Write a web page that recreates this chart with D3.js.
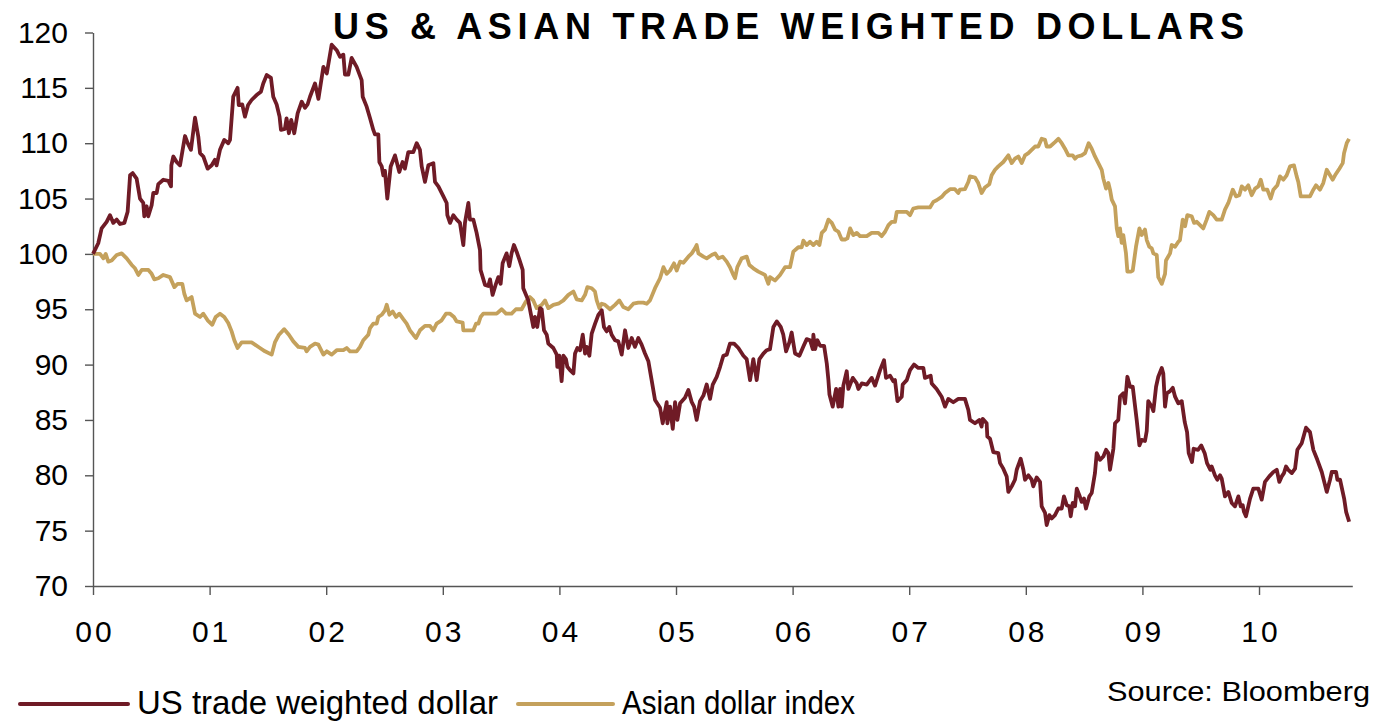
<html>
<head>
<style>
  body { margin: 0; background: #fff; }
  svg { display: block; }
  text { font-family: "Liberation Sans", Arial, sans-serif; fill: #000; }
</style>
</head>
<body>
<script src="https://d3js.org/d3.v7.min.js"></script>
<script>
// years since 2000 (fractional) and index levels
let usYears = [0,0.045,0.074,0.117,0.146,0.174,0.203,0.232,0.269,0.297,0.318,0.34,0.374,0.403,0.431,0.44,0.46,0.474,0.503,0.517,0.546,0.56,0.603,0.646,0.669,0.672,0.689,0.717,0.746,0.789,0.812,0.84,0.875,0.903,0.918,0.946,0.983,1.018,1.046,1.06,1.089,1.126,1.16,1.175,1.203,1.24,1.25,1.28,1.303,1.33,1.36,1.403,1.44,1.46,1.49,1.526,1.546,1.575,1.6,1.612,1.646,1.66,1.68,1.7,1.726,1.755,1.79,1.818,1.84,1.861,1.904,1.933,1.976,2.005,2.047,2.09,2.119,2.147,2.161,2.19,2.218,2.261,2.304,2.313,2.347,2.376,2.404,2.418,2.447,2.456,2.476,2.49,2.504,2.524,2.553,2.59,2.627,2.655,2.675,2.704,2.747,2.776,2.804,2.819,2.847,2.876,2.919,2.933,2.962,3.005,3.033,3.039,3.062,3.09,3.119,3.147,3.176,3.19,3.219,3.233,3.262,3.29,3.319,3.324,3.362,3.39,3.405,3.427,3.456,3.476,3.496,3.513,3.547,3.57,3.59,3.61,3.633,3.656,3.685,3.69,3.733,3.776,3.79,3.81,3.834,3.848,3.868,3.891,3.905,3.948,3.977,3.982,3.999,4.019,4.034,4.056,4.068,4.091,4.12,4.134,4.154,4.177,4.2,4.22,4.234,4.257,4.277,4.306,4.334,4.363,4.382,4.405,4.428,4.448,4.477,4.505,4.534,4.563,4.591,4.62,4.648,4.677,4.705,4.734,4.763,4.791,4.82,4.863,4.886,4.92,4.926,4.949,4.972,4.992,5.012,5.035,5.077,5.106,5.135,5.155,5.177,5.206,5.235,5.263,5.292,5.315,5.349,5.378,5.406,5.435,5.463,5.498,5.535,5.578,5.606,5.635,5.663,5.692,5.715,5.749,5.778,5.806,5.835,5.864,5.898,5.92,5.944,5.972,5.992,6.021,6.058,6.095,6.121,6.15,6.173,6.178,6.193,6.213,6.236,6.27,6.293,6.307,6.316,6.344,6.373,6.393,6.407,6.421,6.435,6.464,6.478,6.516,6.55,6.564,6.593,6.636,6.678,6.707,6.75,6.784,6.801,6.836,6.864,6.878,6.899,6.936,6.944,6.979,7.007,7.041,7.078,7.121,7.135,7.184,7.193,7.235,7.278,7.307,7.335,7.378,7.421,7.478,7.507,7.521,7.564,7.601,7.621,7.63,7.664,7.67,7.693,7.721,7.764,7.779,7.807,7.836,7.85,7.879,7.907,7.922,7.956,7.979,7.993,8.022,8.05,8.064,8.093,8.122,8.136,8.165,8.179,8.202,8.222,8.25,8.279,8.308,8.327,8.351,8.373,8.385,8.402,8.422,8.437,8.459,8.479,8.499,8.516,8.545,8.565,8.593,8.608,8.636,8.665,8.688,8.708,8.722,8.751,8.765,8.793,8.808,8.836,8.851,8.871,8.894,8.917,8.951,8.974,8.994,9.022,9.037,9.05,9.08,9.094,9.117,9.136,9.166,9.179,9.194,9.209,9.237,9.26,9.28,9.308,9.337,9.363,9.383,9.397,9.425,9.439,9.477,9.505,9.534,9.554,9.583,9.594,9.622,9.642,9.666,9.68,9.708,9.737,9.766,9.794,9.823,9.843,9.86,9.871,9.888,9.908,9.923,9.951,9.994,10.023,10.051,10.088,10.123,10.152,10.174,10.195,10.214,10.232,10.251,10.281,10.309,10.329,10.366,10.403,10.437,10.466,10.5,10.538,10.581,10.609,10.624,10.661,10.672,10.695,10.73,10.747,10.773]
let usValues = [100,100.96,102.3,102.9,103.5,102.8,103.1,102.7,102.8,103.8,107.1,107.3,106.8,105,104.6,103.4,104.3,103.4,104.4,105.5,105.5,106.3,106.7,106.6,106.1,108,108.8,108.3,108,110.65,110,109.4,112.3,110.6,109.1,108.8,107.7,108,108.5,108,109.4,110.3,110,110.3,114.2,115,113.45,113.5,112.4,113.45,113.9,114.35,114.65,115.4,116.16,115.9,114.2,113.5,112.4,111.2,111.3,112.25,110.9,112.1,110.9,112.7,113.75,113.2,113.5,114.2,115.4,114,116.9,116.3,118.9,118.4,117.8,118,116.2,116.2,117.7,116.9,115.7,114.2,113.3,112.25,111.2,110.8,110.8,108.3,107.9,107.1,107.5,105,107.9,108.9,107.4,108.3,107.7,109.2,109.2,110,109.4,107.9,106.5,108,108.2,106.5,106.1,105.2,104.6,103.5,102.8,103.5,103.1,102.8,100.8,102.8,104.6,103.1,103.1,101.9,100.35,98.55,97.2,97.1,97.7,96.3,97.3,97.9,97.3,99.15,100.05,98.9,100.05,100.8,100.2,99.5,98.55,96.9,95.8,93.4,94.3,93.4,95.1,95,93.1,92.7,91.9,91.5,90.9,89.8,90.8,88.5,90.8,90.5,89.8,89.5,89.2,91,91.5,91.3,92.7,91,91.6,90.8,92.8,93.7,94.5,94.9,93.4,93,93.4,92.7,92.2,92.1,90.9,93.1,91.5,92.4,91.6,92.4,91.8,91,90.3,88.6,86.8,86.1,84.7,86.6,84.7,86.2,84.2,86.6,85,86.5,87,87.7,86.6,86.2,85,86.7,87.2,88.2,86.9,88.2,88.9,89.8,90.8,90.9,91.9,91.9,91.5,90.8,90.5,88.6,90.5,88.6,90.5,91,91.3,91.4,93.4,93.9,93.4,92.7,91.2,92,92.9,91,90.8,91.7,92.3,92.2,91.4,92.7,91.4,92.2,91.7,91.7,90.1,88.6,87.3,86.2,87.8,86.2,87.8,86.2,88.1,89.4,87.8,88.8,88.3,87.8,88.3,88.2,88.8,88.1,89.5,90.4,88.8,89,88.5,88.6,86.7,87.1,88.2,88.6,89.5,90,89.7,89.7,88.8,89,88.3,87.8,87.1,86.2,86.9,86.6,86.9,86.9,85.9,85,84.7,85,84.4,85.1,84.7,83.5,83.3,82.1,82,81.1,80.6,79.9,78.5,79,79.6,80.5,81.5,80.5,79.6,80,79.6,79,79.8,79.4,77.2,76.6,75.5,76.4,76.1,76.4,77,77,78.1,77.3,77.2,76.3,77.5,77.2,78.8,78.2,77.6,77.9,77,78.1,78.4,80.2,82,81.4,81.7,82.3,82,80.5,82.4,84.7,85,87.1,87.4,86.5,88.9,88,88,85,82.7,83.2,83.1,84,86.7,86.2,85.8,88,88.9,89.7,89.2,86.2,87.4,87.6,87.9,87.1,86.5,86.7,84.8,83.9,82,81.2,82.4,82.3,82.7,82,81.1,80.5,80.8,80,79.6,80,79.7,78.1,78.5,77.5,77.2,78.1,77.2,77.3,76.7,76.3,77.2,77.9,78.8,78.8,77.8,79.4,79.9,80.3,80.5,79.4,79.9,80.2,80.8,80.5,80.2,80.6,82.3,82.9,84.3,83.9,82.3,81.4,80.3,78.5,79.6,80.3,80.3,79.6,79.6,77.9,76.7,75.8]

let asiaYears = [0,0.06,0.089,0.109,0.131,0.16,0.203,0.246,0.289,0.332,0.36,0.389,0.418,0.475,0.503,0.526,0.56,0.603,0.66,0.698,0.726,0.766,0.783,0.803,0.846,0.875,0.918,0.946,0.983,1.023,1.052,1.089,1.126,1.16,1.189,1.212,1.24,1.275,1.318,1.36,1.389,1.432,1.475,1.532,1.56,1.595,1.64,1.68,1.718,1.761,1.818,1.832,1.861,1.904,1.933,1.976,2.005,2.047,2.09,2.147,2.176,2.204,2.261,2.29,2.318,2.361,2.376,2.404,2.433,2.447,2.476,2.504,2.519,2.542,2.57,2.599,2.627,2.661,2.69,2.718,2.747,2.77,2.804,2.847,2.89,2.919,2.947,2.99,3.027,3.062,3.096,3.119,3.17,3.176,3.219,3.262,3.285,3.305,3.324,3.347,3.405,3.462,3.505,3.542,3.59,3.627,3.676,3.713,3.747,3.776,3.805,3.848,3.877,3.905,3.948,3.991,4.034,4.077,4.12,4.148,4.191,4.22,4.24,4.277,4.305,4.32,4.343,4.363,4.391,4.434,4.477,4.514,4.548,4.591,4.634,4.677,4.72,4.749,4.777,4.82,4.863,4.892,4.92,4.949,4.983,5.006,5.035,5.063,5.106,5.135,5.163,5.177,5.192,5.235,5.263,5.306,5.335,5.363,5.4,5.435,5.463,5.492,5.506,5.526,5.563,5.606,5.629,5.663,5.706,5.763,5.792,5.806,5.849,5.892,5.935,5.978,6.006,6.049,6.078,6.092,6.121,6.15,6.178,6.207,6.23,6.25,6.278,6.307,6.336,6.364,6.393,6.421,6.45,6.47,6.493,6.521,6.55,6.578,6.636,6.678,6.735,6.764,6.793,6.822,6.85,6.878,6.893,6.936,6.979,7.007,7.035,7.078,7.121,7.178,7.207,7.235,7.278,7.307,7.35,7.392,7.421,7.435,7.478,7.507,7.521,7.564,7.592,7.621,7.649,7.687,7.707,7.736,7.764,7.807,7.85,7.879,7.907,7.936,7.965,7.993,8.022,8.05,8.079,8.107,8.136,8.165,8.179,8.208,8.25,8.279,8.308,8.336,8.365,8.402,8.422,8.442,8.479,8.508,8.539,8.565,8.593,8.622,8.651,8.665,8.688,8.708,8.722,8.737,8.765,8.78,8.793,8.808,8.822,8.836,8.859,8.871,8.9,8.917,8.945,8.974,8.994,9.022,9.037,9.059,9.08,9.094,9.123,9.136,9.166,9.194,9.202,9.237,9.251,9.28,9.308,9.322,9.346,9.366,9.385,9.423,9.443,9.466,9.494,9.522,9.551,9.574,9.608,9.637,9.68,9.708,9.737,9.775,9.803,9.831,9.852,9.88,9.908,9.937,9.966,9.994,10.015,10.037,10.071,10.1,10.123,10.157,10.18,10.209,10.237,10.266,10.3,10.323,10.337,10.358,10.395,10.437,10.466,10.489,10.523,10.551,10.581,10.609,10.632,10.652,10.689,10.718,10.729,10.752,10.772]
let asiaValues = [100,100,99.6,100,99.3,99.4,99.9,100.05,99.6,99,98.7,98.1,98.55,98.55,98.2,97.7,97.8,98.1,97.9,97,97.3,97.3,96.4,95.8,96.1,94.6,94.3,94.6,94,93.6,94.3,94.6,94.3,93.75,93,92.2,91.5,92,92,92,91.8,91.5,91.2,90.9,92,92.7,93.2,92.7,92.1,91.6,91.5,91.2,91.6,91.9,91.8,90.9,91.2,90.9,91.3,91.3,91.5,91.2,91.2,91.6,92.2,92.7,93.3,93.7,93.7,94.3,94.5,94.9,95.4,94.5,94.8,94.3,94.6,94.1,93.7,93.1,92.7,92.4,93.1,93.5,93.5,93.1,93.7,94,94.6,94.6,94.3,93.9,93.8,93.1,93.1,93.1,93.7,93.7,94.3,94.6,94.6,94.6,95,94.6,94.6,95,95,95.7,96.1,95.8,95.1,95.4,95.8,95.1,95.4,95.5,95.8,96.3,96.6,95.9,95.8,96.3,97,96.9,96.6,95.8,95.1,95.5,95.4,95,95.4,95.8,95.2,95,95.5,95.6,95.6,95.5,95.8,96.9,97.8,98.8,98.2,98.5,99.15,98.5,99.3,99.2,99.75,100.05,100.5,100.8,100.05,99.75,99.6,99.9,100.05,99.6,99.75,99.3,98.8,98.1,97.8,98.8,99.6,99.75,99,98.7,98.4,98.1,97.3,97.9,97.6,98.1,98.8,98.8,100.2,100.6,100.6,101.2,100.8,101.1,100.8,101.1,100.8,101.9,102.2,103.1,102.8,102.2,102,101.3,101.3,101.4,102.3,101.7,101.9,101.6,101.6,101.9,101.9,101.6,102,102.6,102.9,102.9,103.8,103.8,103.8,103.5,104.1,104.2,104.2,104.2,104.7,104.85,105.15,105.5,105.85,105.85,105.5,105.8,105.85,106.5,107,106.9,106.4,105.5,106,106.3,107.1,107.6,107.9,108.3,108.9,108.2,108.6,108.8,108.2,108.9,109.1,109.4,109.7,109.7,110.4,110.3,109.7,109.7,110.1,110.4,110,109.5,108.9,108.9,108.6,108.8,108.9,109.1,110,109.5,108.8,108.2,107.6,106.8,105.9,106.4,105.8,104.9,104.3,102.3,101.6,102.3,101,101.7,100.05,98.4,98.4,98.5,100.65,102.3,101.7,102.2,101.25,100.65,100.5,100.05,99.9,97.9,97.3,98.2,99.4,100.05,100.8,100.65,101.1,101.25,103.1,102.5,103.5,103.4,102.8,102.9,102.6,102.3,103.1,103.8,103.5,103.1,103.1,104,104.6,105.8,105.2,105.3,106.1,105.8,106.2,105.3,105.9,106.1,106.7,105.8,105.8,105,105.8,106.2,107,106.7,107.1,107.9,108,107,106.5,105.2,105.2,105.2,105.8,106.2,105.8,106.4,107.6,107.1,106.7,107.1,107.7,108.2,109.1,110,110.4]

let yTicks = [70,75,80,85,90,95,100,105,110,115,120]
let xTicks = [0,1,2,3,4,5,6,7,8,9,10]
let xTickLabels = ["00","01","02","03","04","05","06","07","08","09","10"]
let seriesNames = ["US trade weighted dollar","Asian dollar index"]
let seriesColors = ["#6f1b26","#c4a15c"]

var width = 1378, height = 721
var svg = d3.select("body")
    .append("svg")
    .attr("width", width)
    .attr("height", height)

var xscale = d3.scaleLinear()
    .domain([0, 10.8])
    .range([93, 1352.3])
var yscale = d3.scaleLinear()
    .domain([70, 120])
    .range([586, 32.5])

// title
svg.append("text")
    .attr("x", 333)
    .attr("y", 38.5)
    .attr("font-size", 36)
    .attr("font-weight", "bold")
    .attr("letter-spacing", "5.7px")
    .text("US & ASIAN TRADE WEIGHTED DOLLARS")

// axes
let yAxis = svg.append("g")
    .attr("transform", "translate(93,0)")
    .call(d3.axisLeft(yscale).tickValues(yTicks).tickSize(8).tickSizeOuter(0).tickPadding(17))
yAxis.selectAll("text").attr("font-size", 30).attr("font-family", "Liberation Sans, Arial, sans-serif").attr("fill", "#000")

let xAxis = svg.append("g")
    .attr("transform", "translate(0,586)")
    .call(d3.axisBottom(xscale).tickValues(xTicks).tickSize(9).tickSizeOuter(0).tickPadding(26)
        .tickFormat((d, i) => xTickLabels[i]))
xAxis.selectAll("text").attr("font-size", 30).attr("letter-spacing", "3px").attr("dx", "1.5px")
    .attr("font-family", "Liberation Sans, Arial, sans-serif").attr("fill", "#000")

svg.selectAll(".domain, .tick line").attr("stroke", "#555").attr("stroke-width", 1.4)

// lines
let line = d3.line()
    .x((d) => xscale(d[0]))
    .y((d) => yscale(d[1]))

let asiaData = asiaYears.map((t, i) => [t, asiaValues[i]])
let usData = usYears.map((t, i) => [t, usValues[i]])

svg.append("path")
    .datum(asiaData)
    .attr("d", line)
    .attr("fill", "none")
    .attr("stroke", seriesColors[1])
    .attr("stroke-width", 3.8)
    .attr("stroke-linejoin", "round")

svg.append("path")
    .datum(usData)
    .attr("d", line)
    .attr("fill", "none")
    .attr("stroke", seriesColors[0])
    .attr("stroke-width", 3.8)
    .attr("stroke-linejoin", "round")

// legend
let legend = [
    {x1: 20, x2: 128, tx: 137, w: 361},
    {x1: 518, x2: 613, tx: 622, w: 233}
]
legend.forEach((l, i) => {
    svg.append("line")
        .attr("x1", l.x1).attr("x2", l.x2)
        .attr("y1", 704).attr("y2", 704)
        .attr("stroke", seriesColors[i])
        .attr("stroke-width", 4)
        .attr("stroke-linecap", "round")
    svg.append("text")
        .attr("x", l.tx)
        .attr("y", 714)
        .attr("font-size", 33)
        .attr("textLength", l.w)
        .attr("lengthAdjust", "spacingAndGlyphs")
        .text(seriesNames[i])
})

svg.append("text")
    .attr("x", 1107)
    .attr("y", 701)
    .attr("font-size", 28)
    .attr("textLength", 263)
    .attr("lengthAdjust", "spacingAndGlyphs")
    .text("Source: Bloomberg")
</script>
</body>
</html>
